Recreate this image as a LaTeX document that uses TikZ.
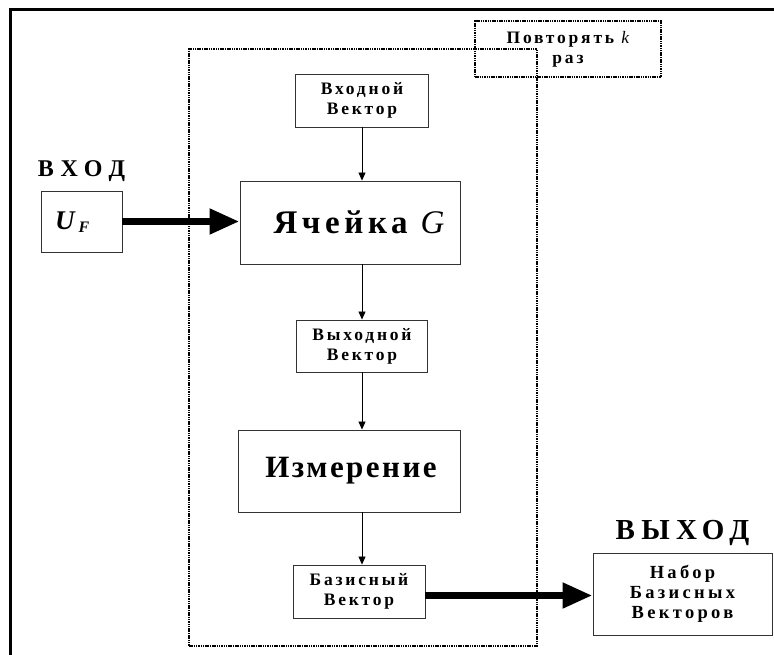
\documentclass[tikz,border=0pt]{standalone}
\usepackage{fontspec}
\setmainfont{Liberation Serif}
\usetikzlibrary{arrows.meta}
\newcommand{\lsp}[2][16]{{\addfontfeatures{LetterSpace=#1}#2}}
\tikzset{
  box/.style={draw=black!80,line width=0.9pt,align=center,inner sep=0pt,font=\bfseries},
  small/.style={font=\bfseries\fontsize{17.5}{20}\selectfont},
  thinarrow/.style={draw=black,line width=0.8pt,-{Triangle[length=8pt,width=7pt]}},
  thickarrow/.style={draw=black,line width=7.5pt,-{Triangle[length=30pt,width=24pt]}},
  dotbox/.style={draw=black,line width=2pt,dash pattern=on 1.5pt off 0.8pt},
}
\begin{document}
\begin{tikzpicture}[x=1pt,y=-1pt]
\useasboundingbox (0,0) rectangle (774,655);
% outer frame (top and left only)
\draw[line width=3pt] (774,9.5) -- (10.5,9.5) -- (10.5,655);
% dotted loop box
\node[dotbox,minimum width=348pt,minimum height=597pt,inner sep=0pt] (loop) at (363,347.5) {};
\node[dotbox,minimum width=186pt,minimum height=56pt,inner sep=0pt,align=center,small] (rep) at (568,49) {\lsp{Повторять}\ \textmd{\textit{k}}\\ \lsp{раз}};
% boxes
\node[box,small,minimum width=133pt,minimum height=53pt] (in) at (362,100.5) {\lsp{Входной}\\ \lsp{Вектор}};
\node[box,minimum width=220pt,minimum height=83pt,font=\bfseries\fontsize{33}{36}\selectfont] (cell) at (350,222.5) {\hspace*{18pt}\lsp[14]{Ячейка} \textmd{\textit{G}}};
\node[box,small,minimum width=131pt,minimum height=52pt] (out) at (362,346) {\lsp{Выходной}\\ \lsp{Вектор}};
\node[box,minimum width=222pt,minimum height=82pt,font=\bfseries\fontsize{31}{36}\selectfont] (meas) at (349,471) {\hspace*{4pt}\lsp[8]{Измерение}};
\node[box,small,minimum width=132pt,minimum height=53pt] (basis) at (359,591.5) {\lsp{Базисный}\\ \lsp{Вектор}};
\node[box,minimum width=179pt,minimum height=82pt,font=\bfseries\fontsize{18.5}{20}\selectfont] (set) at (682.5,594) {\lsp[18]{Набор}\\ \lsp[18]{Базисных}\\ \lsp[18]{Векторов}};
\node[box,minimum width=81pt,minimum height=61pt] (uf) at (81.5,221.5) {};
\node[inner sep=0pt,anchor=base west,font=\bfseries\itshape\fontsize{27}{28}\selectfont] (uftext) at (55,230) {U\kern4pt\raisebox{-3pt}{\fontsize{16}{16}\selectfont F}};
% labels
\node[font=\bfseries\fontsize{24}{28}\selectfont,inner sep=0pt,anchor=base] (inlbl) at (81.5,177) {\lsp[30]{ВХОД}};
\node[font=\bfseries\fontsize{29}{32}\selectfont,inner sep=0pt,anchor=base] (outlbl) at (682.5,539) {\lsp[22]{ВЫХОД}};
% connectors
\draw[thinarrow] (in.south) -- (in.south |- cell.north);
\draw[thinarrow] (in.south |- cell.south) -- (out.north);
\draw[thinarrow] (out.south) -- (out.south |- meas.north);
\draw[thinarrow] (out.south |- meas.south) -- (out.south |- basis.north);
\draw[thickarrow] (uf.east) -- (uf.east -| cell.west);
\draw[thickarrow] ([yshift=-4pt]basis.east) -- ([yshift=-4pt]basis.east -| set.west);
\end{tikzpicture}
\end{document}
